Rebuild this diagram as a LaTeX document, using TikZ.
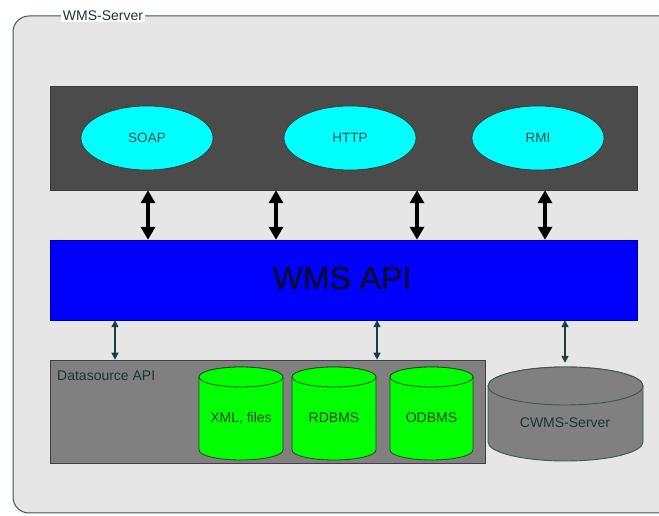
\documentclass[tikz,border=0pt]{standalone}
\usepackage{fontspec}
\setmainfont{Liberation Sans}
\newfontfamily\apifont[FakeBold=0.8]{Liberation Sans}
\usetikzlibrary{arrows.meta,shapes.geometric,calc}

\definecolor{framebg}{HTML}{E6E6E6}
\definecolor{frameline}{HTML}{3A5656}
\definecolor{darkbox}{HTML}{4B4B4B}
\definecolor{apiblue}{HTML}{0000FF}
\definecolor{apitext}{HTML}{0C0C30}
\definecolor{protofill}{HTML}{00FFFF}
\definecolor{prototext}{HTML}{244E4E}
\definecolor{dsgray}{HTML}{808080}
\definecolor{dbgreen}{HTML}{00FF00}
\definecolor{dbline}{HTML}{1E4A1E}
\definecolor{dbtext}{HTML}{1E4416}
\definecolor{thinarrow}{HTML}{1C3E3E}
\definecolor{labeltext}{HTML}{1E3434}

\tikzset{
  protocol/.style={ellipse, fill=protofill, draw=darkbox!60!black, line width=0.6pt,
    minimum width=132pt, minimum height=64pt, inner sep=0pt,
    font=\fontsize{13.5}{15}\selectfont, text=prototext},
  bigarrow/.style={line width=4pt, black,
    {Triangle[width=14pt,length=13pt]}-{Triangle[width=14pt,length=13pt]}},
  smallarrow/.style={line width=1.4pt, thinarrow,
    {Triangle[width=7pt,length=7pt]}-{Triangle[width=7pt,length=7pt]}},
  dbbody/.style={fill=dbgreen, draw=dbline, line width=0.8pt},
  lbl/.style={font=\fontsize{14}{16}\selectfont, inner sep=0pt},
}

\begin{document}
\begin{tikzpicture}[x=1pt,y=1pt]
\useasboundingbox (0,0) rectangle (659,516);
\clip (0,0) rectangle (659,516);
\fill[white] (0,0) rectangle (659,516);

% outer server frame
\draw[frameline, fill=framebg, line width=1pt, rounded corners=16pt]
  (13,3) rectangle (700,500);
\node[lbl, fill=white, text=labeltext, inner xsep=2pt, inner ysep=1pt]
  (title) at (103,500) {WMS-Server};

% protocol layer
\node[fill=darkbox, draw=darkbox!80!black, minimum width=587pt, minimum height=104pt,
  inner sep=0pt] (proto) at (343.5,378) {};
\node[protocol] (soap) at (147,378) {SOAP};
\node[protocol] (http) at (350,378) {HTTP};
\node[protocol] (rmi)  at (538,378) {RMI};

% WMS API layer
\node[fill=apiblue, draw=apiblue!60!black, minimum width=587pt, minimum height=80pt,
  inner sep=0pt] (api) at (343.5,236) {};
\node[text=apitext, font=\apifont\fontsize{32}{36}\selectfont, inner sep=0pt]
  (apilabel) at (342,238) {WMS API};

% connection points between the layers
\coordinate (c1) at (148,0);
\coordinate (c2) at (276,0);
\coordinate (c3) at (417,0);
\coordinate (c4) at (545,0);
\coordinate (d1) at (115,0);
\coordinate (d2) at (377,0);
\coordinate (d3) at (565,0);

\draw[bigarrow] (proto.south -| c1) -- (api.north -| c1);
\draw[bigarrow] (proto.south -| c2) -- (api.north -| c2);
\draw[bigarrow] (proto.south -| c3) -- (api.north -| c3);
\draw[bigarrow] (proto.south -| c4) -- (api.north -| c4);

% datasource layer
\node[fill=dsgray, draw=dsgray!50!black, line width=0.6pt, minimum width=435pt,
  minimum height=103pt, inner sep=0pt] (ds) at (267.5,104.5) {};
\node[lbl, anchor=west, text=labeltext] (dslabel) at (57,140) {Datasource API};

% green storage cylinders: body outline, then top cap
\foreach \nm/\xa/\xb/\txt in {xml/199/283/{XML, files}, rdbms/292/376/RDBMS, odbms/390/473/ODBMS}{
  \pgfmathsetmacro{\rx}{(\xb-\xa)/2}
  \pgfmathsetmacro{\cx}{(\xa+\xb)/2}
  \draw[dbbody] (\xa,139) -- (\xa,66) arc[start angle=180,end angle=360,x radius=\rx,y radius=10]
    -- (\xb,139) arc[start angle=0,end angle=180,x radius=\rx,y radius=10] -- cycle;
  \draw[dbbody] (\cx,139) ellipse[x radius=\rx,y radius=10];
  \node[lbl, text=dbtext] (\nm) at (\cx,98) {\txt};
}

% CWMS server cylinder
\draw[fill=dsgray, draw=frameline, line width=0.9pt]
  (488,130) -- (488,74) arc[start angle=180,end angle=360,x radius=77.5,y radius=19]
  -- (643,130) arc[start angle=0,end angle=180,x radius=77.5,y radius=19] -- cycle;
\draw[fill=dsgray, draw=frameline, line width=0.9pt] (565.5,130) ellipse[x radius=77.5,y radius=19];
\node[inner sep=0pt, minimum width=155pt, minimum height=96pt] (cwms) at (565.5,101) {};
\node[lbl, text=labeltext] (cwmslabel) at (565,93) {CWMS-Server};

\draw[smallarrow] (api.south -| d1) -- (ds.north -| d1);
\draw[smallarrow] (api.south -| d2) -- (ds.north -| d2);
\draw[smallarrow] (api.south -| d3) -- ([yshift=4pt]cwms.north -| d3);
\end{tikzpicture}
\end{document}
